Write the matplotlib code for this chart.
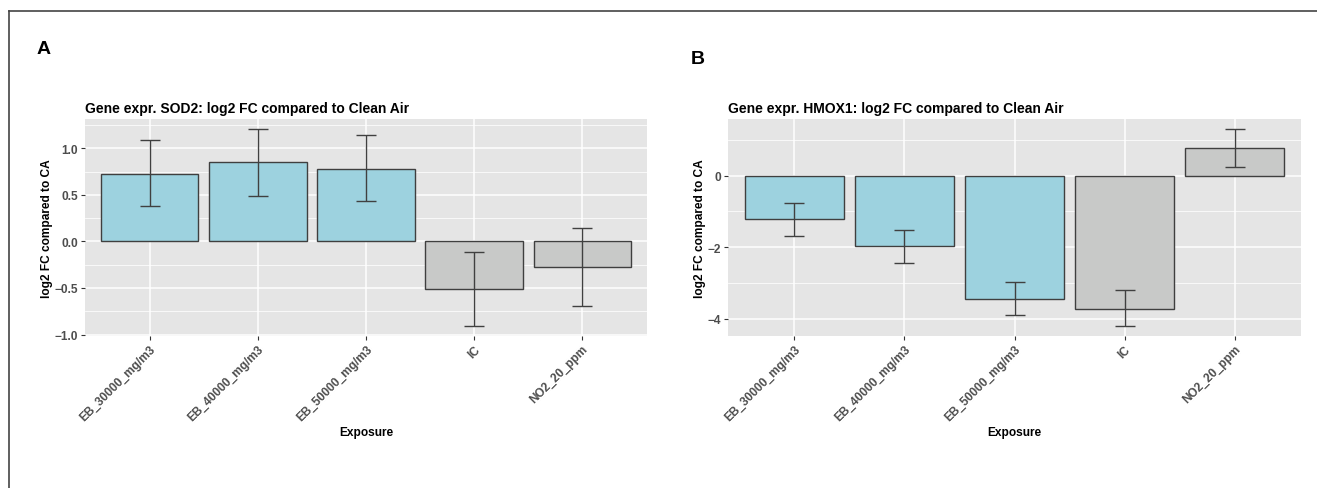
import matplotlib
matplotlib.use("Agg")
import matplotlib.pyplot as plt
from matplotlib.lines import Line2D
import numpy as np

plt.rcParams['font.family'] = ['Liberation Sans', 'DejaVu Sans']

exposures = ["EB_30000_mg/m3", "EB_40000_mg/m3", "EB_50000_mg/m3", "IC", "NO2_20_ppm"]
bar_colors = ["#9dd2df", "#9dd2df", "#9dd2df", "#c8c9c8", "#c8c9c8"]

# SOD2 (panel A)
sod2_fc = [0.73, 0.85, 0.78, -0.51, -0.27]
sod2_low = [0.38, 0.49, 0.43, -0.91, -0.69]
sod2_high = [1.09, 1.21, 1.14, -0.11, 0.14]

# HMOX1 (panel B)
hmox1_fc = [-1.22, -1.97, -3.44, -3.72, 0.78]
hmox1_low = [-1.68, -2.43, -3.90, -4.21, 0.25]
hmox1_high = [-0.76, -1.51, -2.98, -3.20, 1.31]


def gg_bar_panel(ax, values, low, high, title, majors, minors, fmt):
    x = np.arange(len(exposures))
    ax.set_facecolor("#e5e5e5")
    for v in majors:
        ax.axhline(v, color="white", lw=1.1, zorder=0)
    for v in minors:
        ax.axhline(v, color="white", lw=0.55, zorder=0)
    for xi in x:
        ax.axvline(xi, color="white", lw=1.1, zorder=0)

    ax.bar(x, values, width=0.9, color=bar_colors, edgecolor="#3f3f3f", linewidth=1.0, zorder=2)
    vals = np.array(values)
    err = [vals - np.array(low), np.array(high) - vals]
    ax.errorbar(x, vals, yerr=err, fmt="none", ecolor="#404040", elinewidth=1.0,
                capsize=7.5, capthick=1.0, zorder=3)

    # ggplot style 5% expansion of the data range
    lo = min(min(low), 0)
    hi = max(max(high), 0)
    pad = (hi - lo) * 0.05
    ax.set_ylim(lo - pad, hi + pad)
    ax.set_xlim(-0.6, len(exposures) - 0.4)

    ax.set_yticks(majors)
    ax.set_yticklabels([fmt.format(v).replace("-", "\u2212") for v in majors])
    ax.set_xticks(x)
    ax.set_xticklabels(exposures, rotation=45, ha="right", va="top", rotation_mode="anchor")
    ax.tick_params(axis="both", length=3, width=0.8, color="#333333", labelcolor="#4d4d4d",
                   labelsize=8.6, pad=2)
    for lab in ax.get_xticklabels() + ax.get_yticklabels():
        lab.set_fontweight("bold")
    for s in ax.spines.values():
        s.set_visible(False)

    ax.set_title(title, loc="left", fontsize=10, fontweight="bold", pad=5)
    ax.set_ylabel("log2 FC compared to CA", fontsize=8.6, fontweight="bold", labelpad=1)
    ax.set_xlabel("Exposure", fontsize=8.6, fontweight="bold", labelpad=2)


fig = plt.figure(figsize=(13.17, 4.89), dpi=100)

ax1 = fig.add_axes([85 / 1317, 1 - 337 / 489, 562 / 1317, 217 / 489])
gg_bar_panel(ax1, sod2_fc, sod2_low, sod2_high,
             "Gene expr. SOD2: log2 FC compared to Clean Air",
             [-1.0, -0.5, 0.0, 0.5, 1.0], [-0.75, -0.25, 0.25, 0.75, 1.25], "{:.1f}")

ax2 = fig.add_axes([728 / 1317, 1 - 337 / 489, 573 / 1317, 217 / 489])
gg_bar_panel(ax2, hmox1_fc, hmox1_low, hmox1_high,
             "Gene expr. HMOX1: log2 FC compared to Clean Air",
             [-4, -2, 0], [-3, -1, 1], "{:.0f}")

fig.text(37 / 1317, 1 - 50 / 489, "A", fontsize=14, fontweight="bold", va="center", ha="left")
fig.text(691 / 1317, 1 - 60 / 489, "B", fontsize=14, fontweight="bold", va="center", ha="left")

# frame around the figure (left and top edges)
fig.add_artist(Line2D([9 / 1317, 9 / 1317], [0, 1 - 12 / 489], color="#444444", lw=1.2))
fig.add_artist(Line2D([9 / 1317, 1], [1 - 12 / 489, 1 - 12 / 489], color="#444444", lw=1.2))

fig.savefig("out.png", dpi=100)
